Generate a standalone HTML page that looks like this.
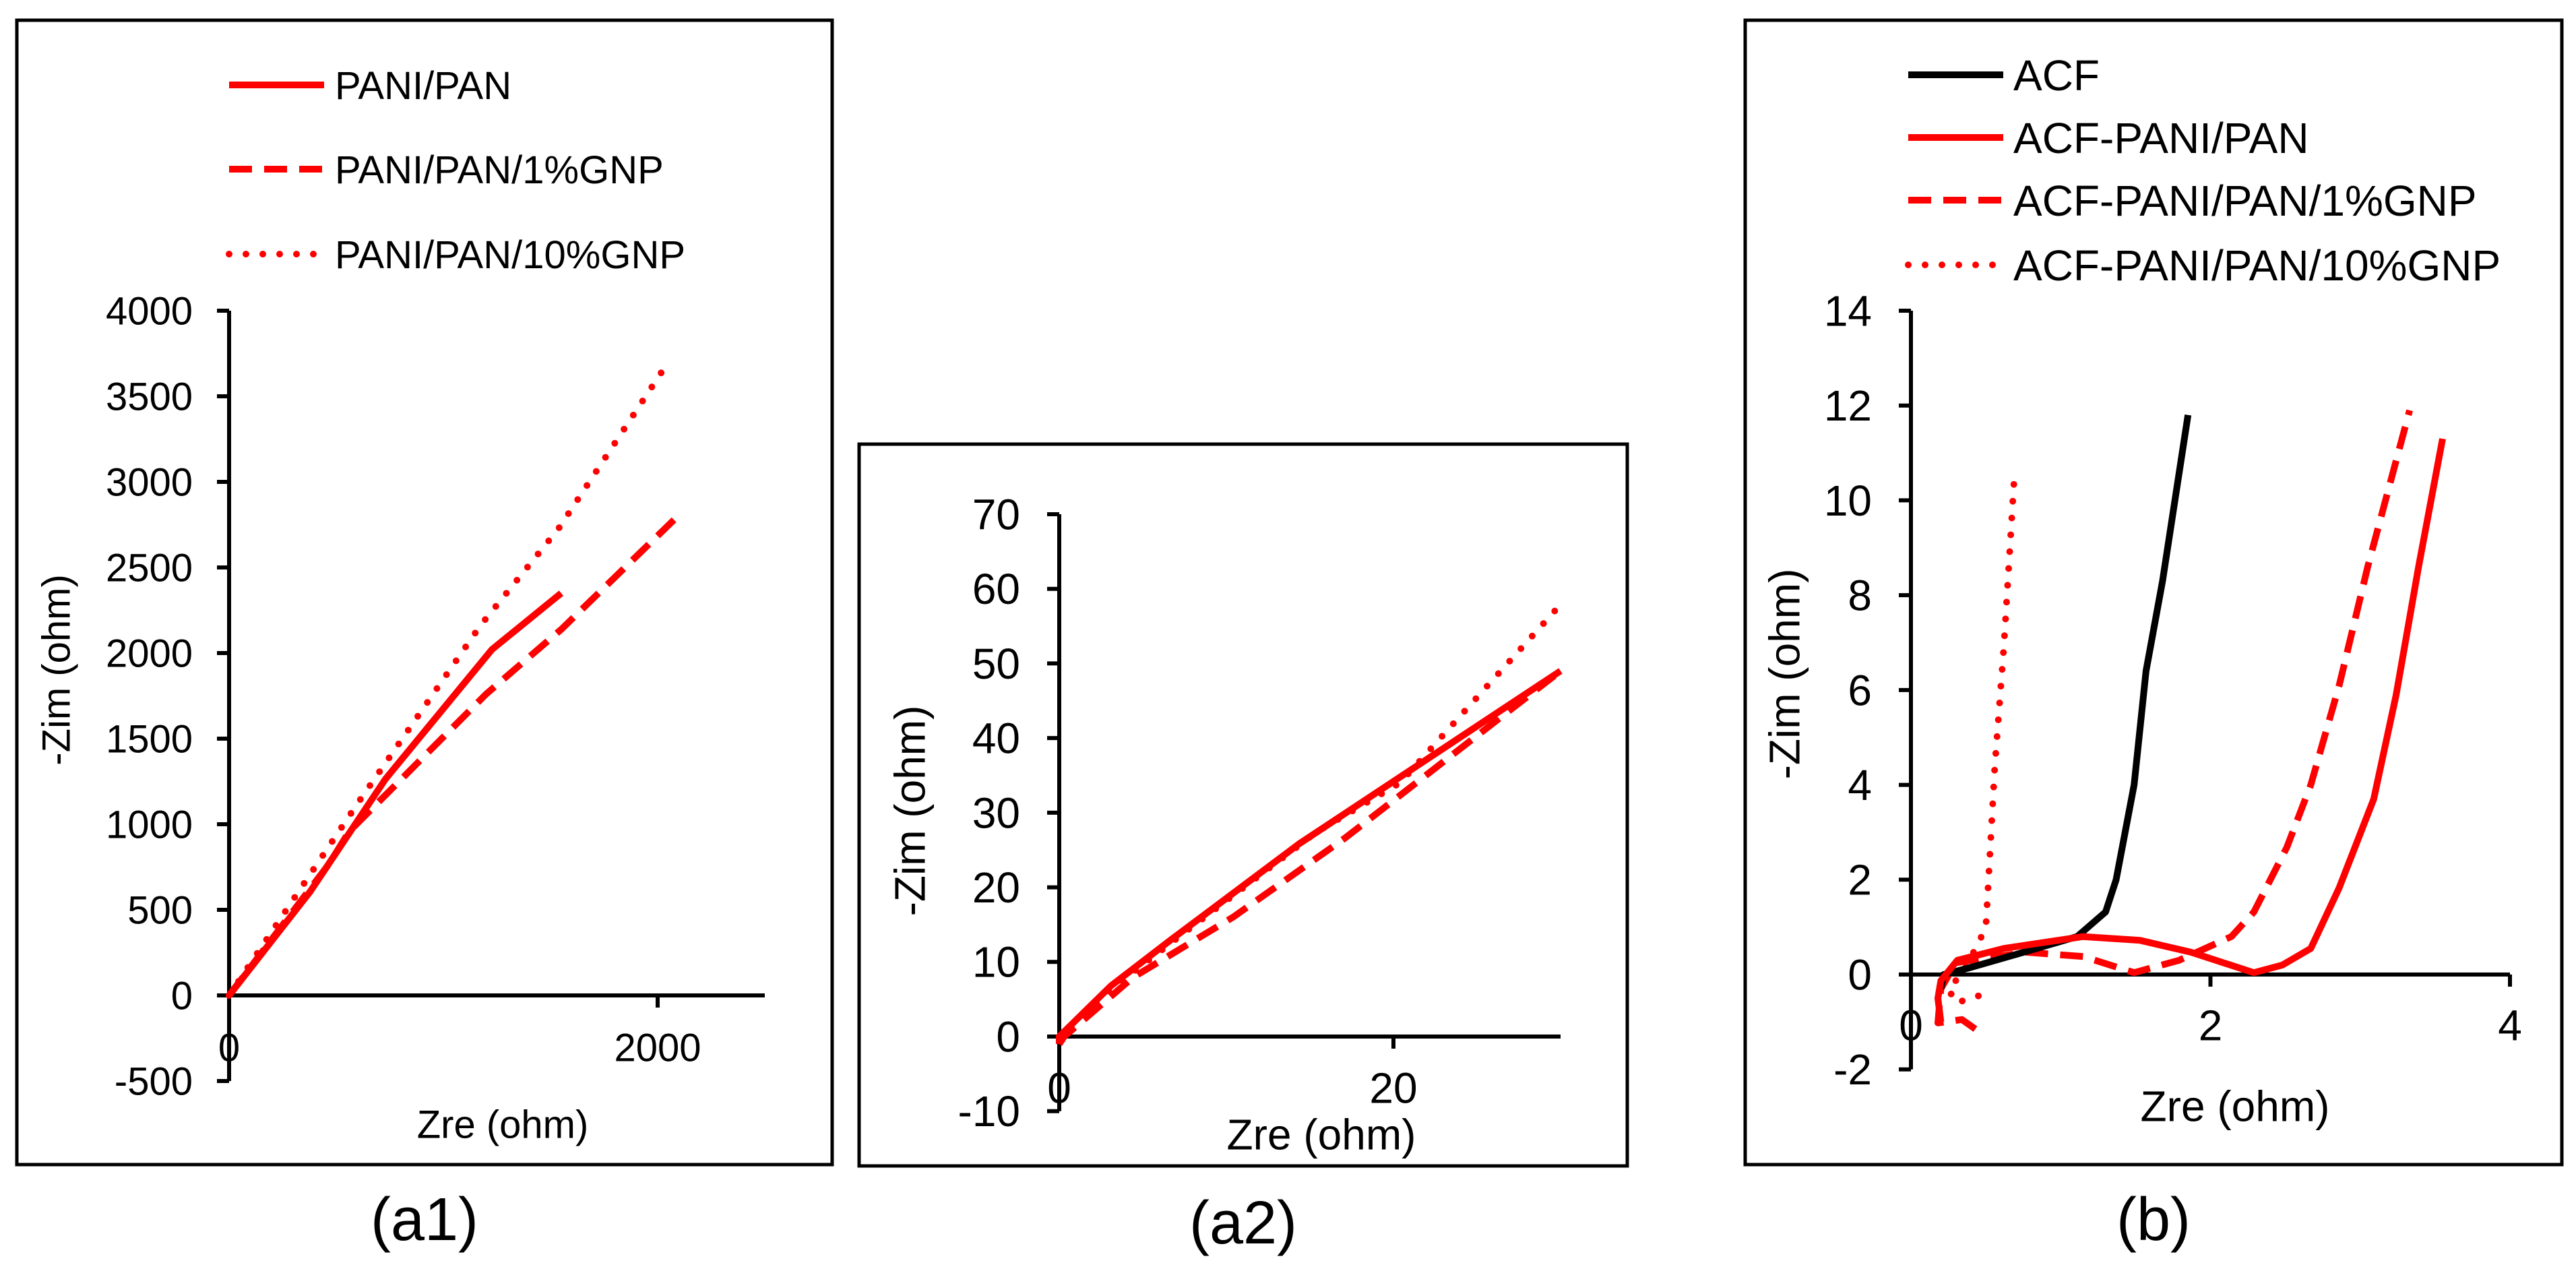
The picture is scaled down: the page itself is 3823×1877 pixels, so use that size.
<!DOCTYPE html>
<html><head><meta charset="utf-8"><style>
html,body{margin:0;padding:0;background:#fff;}
svg{display:block;font-family:"Liberation Sans",Arial,sans-serif;}
</style></head><body>
<svg id="fig" width="3823" height="1877" viewBox="0 0 3823 1877" xmlns="http://www.w3.org/2000/svg">
<rect width="3823" height="1877" fill="#fff"/>
<rect x="25" y="30" width="1210" height="1698" fill="none" stroke="#000" stroke-width="5"/>
<rect x="1275" y="659" width="1140" height="1071" fill="none" stroke="#000" stroke-width="5"/>
<rect x="2590" y="30" width="1212" height="1698" fill="none" stroke="#000" stroke-width="5"/>
<g id="g-a1"></g>
<g id="g-a2"></g>
<g id="g-b"></g>
<text x="630" y="1840" font-size="90" text-anchor="middle">(a1)</text>
<text x="1845" y="1845" font-size="90" text-anchor="middle">(a2)</text>
<text x="3196" y="1840" font-size="90" text-anchor="middle">(b)</text>
</svg>
<script>
// ---- data panel a1 ----
const a1Names = ["PANI/PAN", "PANI/PAN/1%GNP", "PANI/PAN/10%GNP"];
const a1YTicks = [-500, 0, 500, 1000, 1500, 2000, 2500, 3000, 3500, 4000];
const a1XTicks = [0, 2000];
const a1Solid = [[0,0],[378,606],[730,1264],[1226,2020],[1550,2350]];
const a1Dash = [[0,0],[469,772],[560,957],[1199,1760],[1550,2138],[2113,2823]];
const a1Dot = [[0,0],[600,1122],[1173,2161],[1538,2728],[2021,3646]];
// ---- data panel a2 ----
const a2YTicks = [-10, 0, 10, 20, 30, 40, 50, 60, 70];
const a2XTicks = [0, 20];
const a2Solid = [[0,-1],[0,0],[3.1,6.8],[6.7,13.0],[14.4,25.9],[30,49.0]];
const a2Dash = [[0,-1],[0.3,0],[4.4,7.9],[10.4,16.0],[17.1,26.6],[30,49.0]];
const a2Dot = [[0,0],[3,6.2],[8,14.8],[15.4,27.4],[20.4,34.0],[30,57.9]];
// ---- data panel b ----
const bNames = ["ACF", "ACF-PANI/PAN", "ACF-PANI/PAN/1%GNP", "ACF-PANI/PAN/10%GNP"];
const bYTicks = [-2, 0, 2, 4, 6, 8, 10, 12, 14];
const bXTicks = [0, 2, 4];
const bACF = [[0.2,-0.3],[0.22,0],[0.4,0.15],[0.84,0.55],[1.11,0.8],[1.3,1.32],[1.37,2.0],[1.49,4.0],[1.57,6.4],[1.68,8.3],[1.85,11.8]];
const bSolid = [[0.2,-1.0],[0.18,-0.5],[0.2,-0.13],[0.31,0.3],[0.62,0.55],[1.15,0.8],[1.53,0.72],[1.87,0.47],[2.29,0.04],[2.48,0.2],[2.67,0.55],[2.86,1.83],[3.09,3.7],[3.24,5.9],[3.39,8.6],[3.55,11.3]];
const bDash = [[0.43,-1.15],[0.34,-0.95],[0.18,-1.02],[0.2,-0.3],[0.3,0.25],[0.77,0.47],[1.15,0.38],[1.49,0.04],[1.79,0.3],[2.14,0.8],[2.29,1.32],[2.51,2.68],[2.67,4.0],[2.86,6.1],[3.05,8.6],[3.33,11.9]];
const bDot = [[0.45,-0.45],[0.3,-0.6],[0.25,-0.3],[0.35,0.05],[0.5,0.98],[0.56,4.4],[0.62,6.9],[0.69,10.5]];

const NS = "http://www.w3.org/2000/svg";
function mk(parent, tag, attrs, text) {
  const e = document.createElementNS(NS, tag);
  for (const k in attrs) e.setAttribute(k, attrs[k]);
  if (text !== undefined) e.textContent = text;
  parent.appendChild(e);
  return e;
}
function lin(d0, d1, p0, p1) { return v => p0 + (v - d0) * (p1 - p0) / (d1 - d0); }
const STY = {
  solid: {stroke:"#ff0000", dash:null, cap:"butt"},
  dash: {stroke:"#ff0000", dash:"34 18", cap:"butt"},
  dot: {stroke:"#ff0000", dash:"0 25", cap:"round"},
  black: {stroke:"#000", dash:null, cap:"butt"}
};
function series(g, data, sx, sy, sty, name) {
  const p = mk(g, "polyline", {points: data.map(d => sx(d[0]).toFixed(1) + "," + sy(d[1]).toFixed(1)).join(" "),
    fill:"none", stroke:sty.stroke, "stroke-width":10, "stroke-linejoin":"round", "stroke-linecap":sty.cap});
  
  
  if (sty.dash) p.setAttribute("stroke-dasharray", sty.dash);
}
function axes(g, cfg) {
  const {sx, sy, xTicks, yTicks, xMax, yMin, yMax, labelRight, xLabY, fs} = cfg;
  const x0 = sx(0), y0 = sy(0);
  const ya = mk(g, "line", {x1:x0, y1:sy(yMin), x2:x0, y2:sy(yMax), stroke:"#000", "stroke-width":6});
  
  
  const xa = mk(g, "line", {x1:x0, y1:y0, x2:sx(xMax), y2:y0, stroke:"#000", "stroke-width":6});
  
  
  yTicks.forEach(v => {
    const t = mk(g, "line", {x1:x0 - 18, y1:sy(v), x2:x0, y2:sy(v), stroke:"#000", "stroke-width":6});
    
    
    const l = mk(g, "text", {x:labelRight, y:sy(v) + fs * 0.35, "font-size":fs, "text-anchor":"end"}, String(v));
    
    
  });
  xTicks.forEach(v => {
    if (v !== 0) {
      const t = mk(g, "line", {x1:sx(v), y1:y0, x2:sx(v), y2:y0 + 18, stroke:"#000", "stroke-width":6});
      
      
    }
    const l = mk(g, "text", {x:sx(v), y:xLabY + fs * 0.35, "font-size":fs, "text-anchor":"middle"}, String(v));
    
    
  });
}
function titles(g, xt, yt, fs) {
  const a = mk(g, "text", {x:xt[0], y:xt[1] + fs * 0.35, "font-size":fs, "text-anchor":"middle"}, "Zre (ohm)");
  
  
  const b = mk(g, "text", {x:0, y:0, "font-size":fs, "text-anchor":"middle",
    transform:"translate(" + (yt[0] + fs * 0.35) + "," + yt[1] + ") rotate(-90)"}, "-Zim (ohm)");
  
  
}
function legend(g, x1, x2, tx, ys, names, styles, fs) {
  names.forEach((n, i) => {
    const s = styles[i];
    const l = mk(g, "line", {x1:x1, y1:ys[i], x2:x2, y2:ys[i], stroke:s.stroke, "stroke-width":10, "stroke-linecap":s.cap});
    if (s.dash) l.setAttribute("stroke-dasharray", s.dash);
    
    
    const t = mk(g, "text", {x:tx, y:ys[i] + fs * 0.36, "font-size":fs}, n);
    
    
  });
}

// Panel a1
(function(){
  const g = document.getElementById("g-a1");
  const sx = lin(0, 2000, 340, 976), sy = lin(0, 4000, 1477, 461);
  axes(g, {sx, sy, xTicks:a1XTicks, yTicks:a1YTicks, xMax:2500, yMin:-500, yMax:4000, labelRight:286, xLabY:1554, fs:58});
  titles(g, [746, 1668], [83, 994], 58);
  series(g, a1Dot, sx, sy, STY.dot, "series-pani-pan-10gnp");
  series(g, a1Dash, sx, sy, STY.dash, "series-pani-pan-1gnp");
  series(g, a1Solid, sx, sy, STY.solid, "series-pani-pan");
  legend(g, 340, 481, 497, [126, 251, 377], a1Names, [STY.solid, STY.dash, STY.dot], 58);
})();
// Panel a2
(function(){
  const g = document.getElementById("g-a2");
  const sx = lin(0, 20, 1572, 2068), sy = lin(0, 70, 1538, 763);
  axes(g, {sx, sy, xTicks:a2XTicks, yTicks:a2YTicks, xMax:30, yMin:-10, yMax:70, labelRight:1514, xLabY:1614, fs:64});
  titles(g, [1961, 1683], [1350, 1203], 64);
  series(g, a2Dot, sx, sy, STY.dot, "series-pani-pan-10gnp");
  series(g, a2Dash, sx, sy, STY.dash, "series-pani-pan-1gnp");
  series(g, a2Solid, sx, sy, STY.solid, "series-pani-pan");
})();
// Panel b
(function(){
  const g = document.getElementById("g-b");
  const sx = lin(0, 4, 2836, 3725), sy = lin(0, 14, 1446, 461);
  axes(g, {sx, sy, xTicks:bXTicks, yTicks:bYTicks, xMax:4, yMin:-2, yMax:14, labelRight:2778, xLabY:1521, fs:64});
  titles(g, [3317, 1641], [2648, 1000], 64);
  series(g, bDot, sx, sy, STY.dot, "series-acf-pani-pan-10gnp");
  series(g, bDash, sx, sy, STY.dash, "series-acf-pani-pan-1gnp");
  series(g, bACF, sx, sy, STY.black, "series-acf");
  series(g, bSolid, sx, sy, STY.solid, "series-acf-pani-pan");
  legend(g, 2832, 2973, 2988, [111, 204, 297, 393], bNames, [STY.black, STY.solid, STY.dash, STY.dot], 64);
})();
</script>
</body></html>
